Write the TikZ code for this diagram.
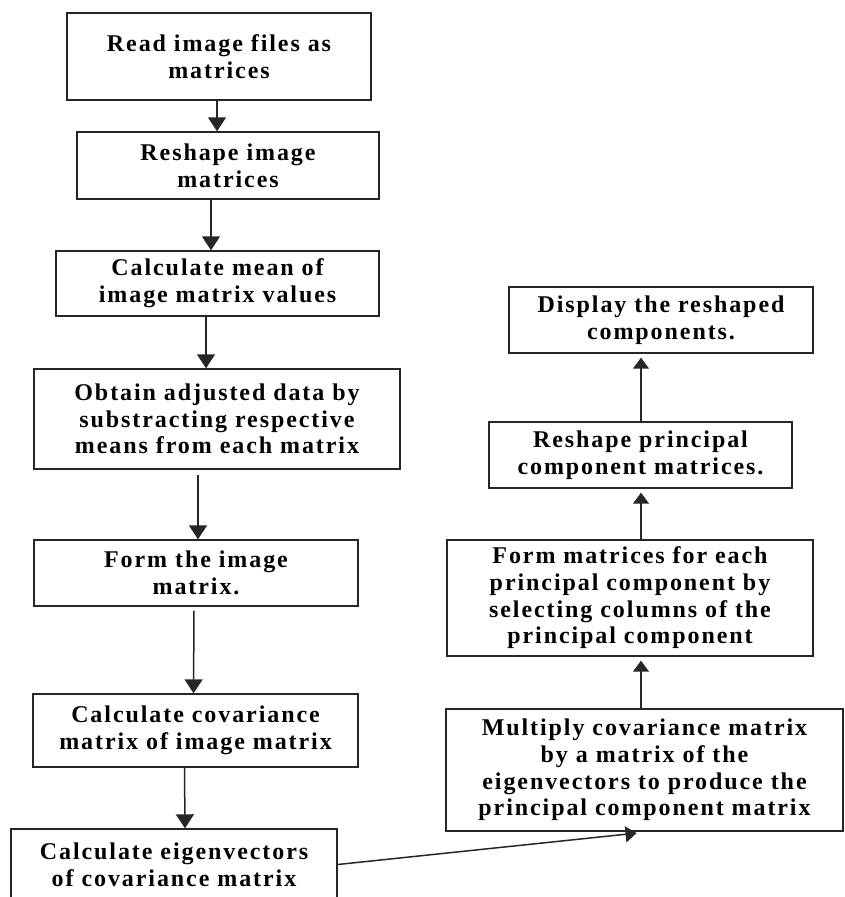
\documentclass[tikz,border=0pt]{standalone}
\usepackage{fontspec}
\setmainfont{Liberation Serif}[LetterSpace=8]
\usetikzlibrary{arrows.meta}
\begin{document}
\begin{tikzpicture}[x=1pt,y=-1pt,
  box/.style={draw=black!85, line width=1.4pt, rectangle, inner sep=0pt, align=center,
    font=\fontsize{24}{26.7}\selectfont\bfseries},
  arr/.style={draw=black!85, line width=1.5pt, -{Triangle[width=18pt,length=14pt]}},
  arrs/.style={draw=black!85, line width=1.5pt, -{Triangle[width=16pt,length=11pt]}, shorten >=4pt}
]
\useasboundingbox (0,0) rectangle (845,897);
\fill[white] (0,0) rectangle (845,897);

\node[box, minimum width=304pt, minimum height=87pt] (b1) at (219,56.5) {Read image files as\\matrices};
\node[box, minimum width=302pt, minimum height=67pt] (b2) at (228,165.5) {Reshape image\\matrices};
\node[box, minimum width=323pt, minimum height=65pt] (b3) at (217.5,283.5) {Calculate mean of\\image matrix values};
\node[box, minimum width=366pt, minimum height=100pt] (b4) at (217,419) {Obtain adjusted data by\\substracting respective\\means from each matrix};
\node[box, minimum width=324pt, minimum height=66pt] (b5) at (196,573) {Form the image\\matrix.};
\node[box, minimum width=325pt, minimum height=73pt] (b6) at (195.5,730.5) {Calculate covariance\\matrix of image matrix};
\node[box, minimum width=326pt, minimum height=71pt] (b7) at (174,864.5) {Calculate eigenvectors\\of covariance matrix};
\node[box, minimum width=397pt, minimum height=122pt] (b8) at (644.5,770) {Multiply covariance matrix\\by a matrix of the\\eigenvectors to produce the\\principal component matrix};
\node[box, minimum width=366pt, minimum height=116pt] (b9) at (630,598) {Form matrices for each\\principal component by\\selecting columns of the\\principal component};
\node[box, minimum width=303pt, minimum height=66pt] (b10) at (640.5,455) {Reshape principal\\component matrices.};
\node[box, minimum width=304pt, minimum height=66pt] (b11) at (661,320) {Display the reshaped\\components.};

\draw[arr] ([xshift=-2pt]b1.south) -- ([xshift=-11pt]b2.north);
\draw[arr] ([xshift=-17pt]b2.south) -- ([xshift=-6.5pt]b3.north);
\draw[arr] ([xshift=-11.5pt]b3.south) -- ([xshift=-11pt]b4.north);
\draw[arr] ([xshift=-19pt,yshift=-5pt]b4.south) -- ([xshift=2pt]b5.north);
\draw[arr] ([xshift=-2pt,yshift=-4pt]b5.south) -- ([xshift=-2pt]b6.north);
\draw[arr] ([xshift=-11pt]b6.south) -- ([xshift=11pt]b7.north);

\draw[arrs] (b7.east) -- ([xshift=-4pt,yshift=-1pt]b8.south);
\draw[arrs] ([xshift=-3.5pt]b8.north) -- ([xshift=11pt]b9.south);
\draw[arrs] ([xshift=11pt]b9.north) -- ([xshift=0.5pt]b10.south);
\draw[arrs] ([xshift=0.5pt]b10.north) -- ([xshift=-20pt]b11.south);
\end{tikzpicture}
\end{document}
